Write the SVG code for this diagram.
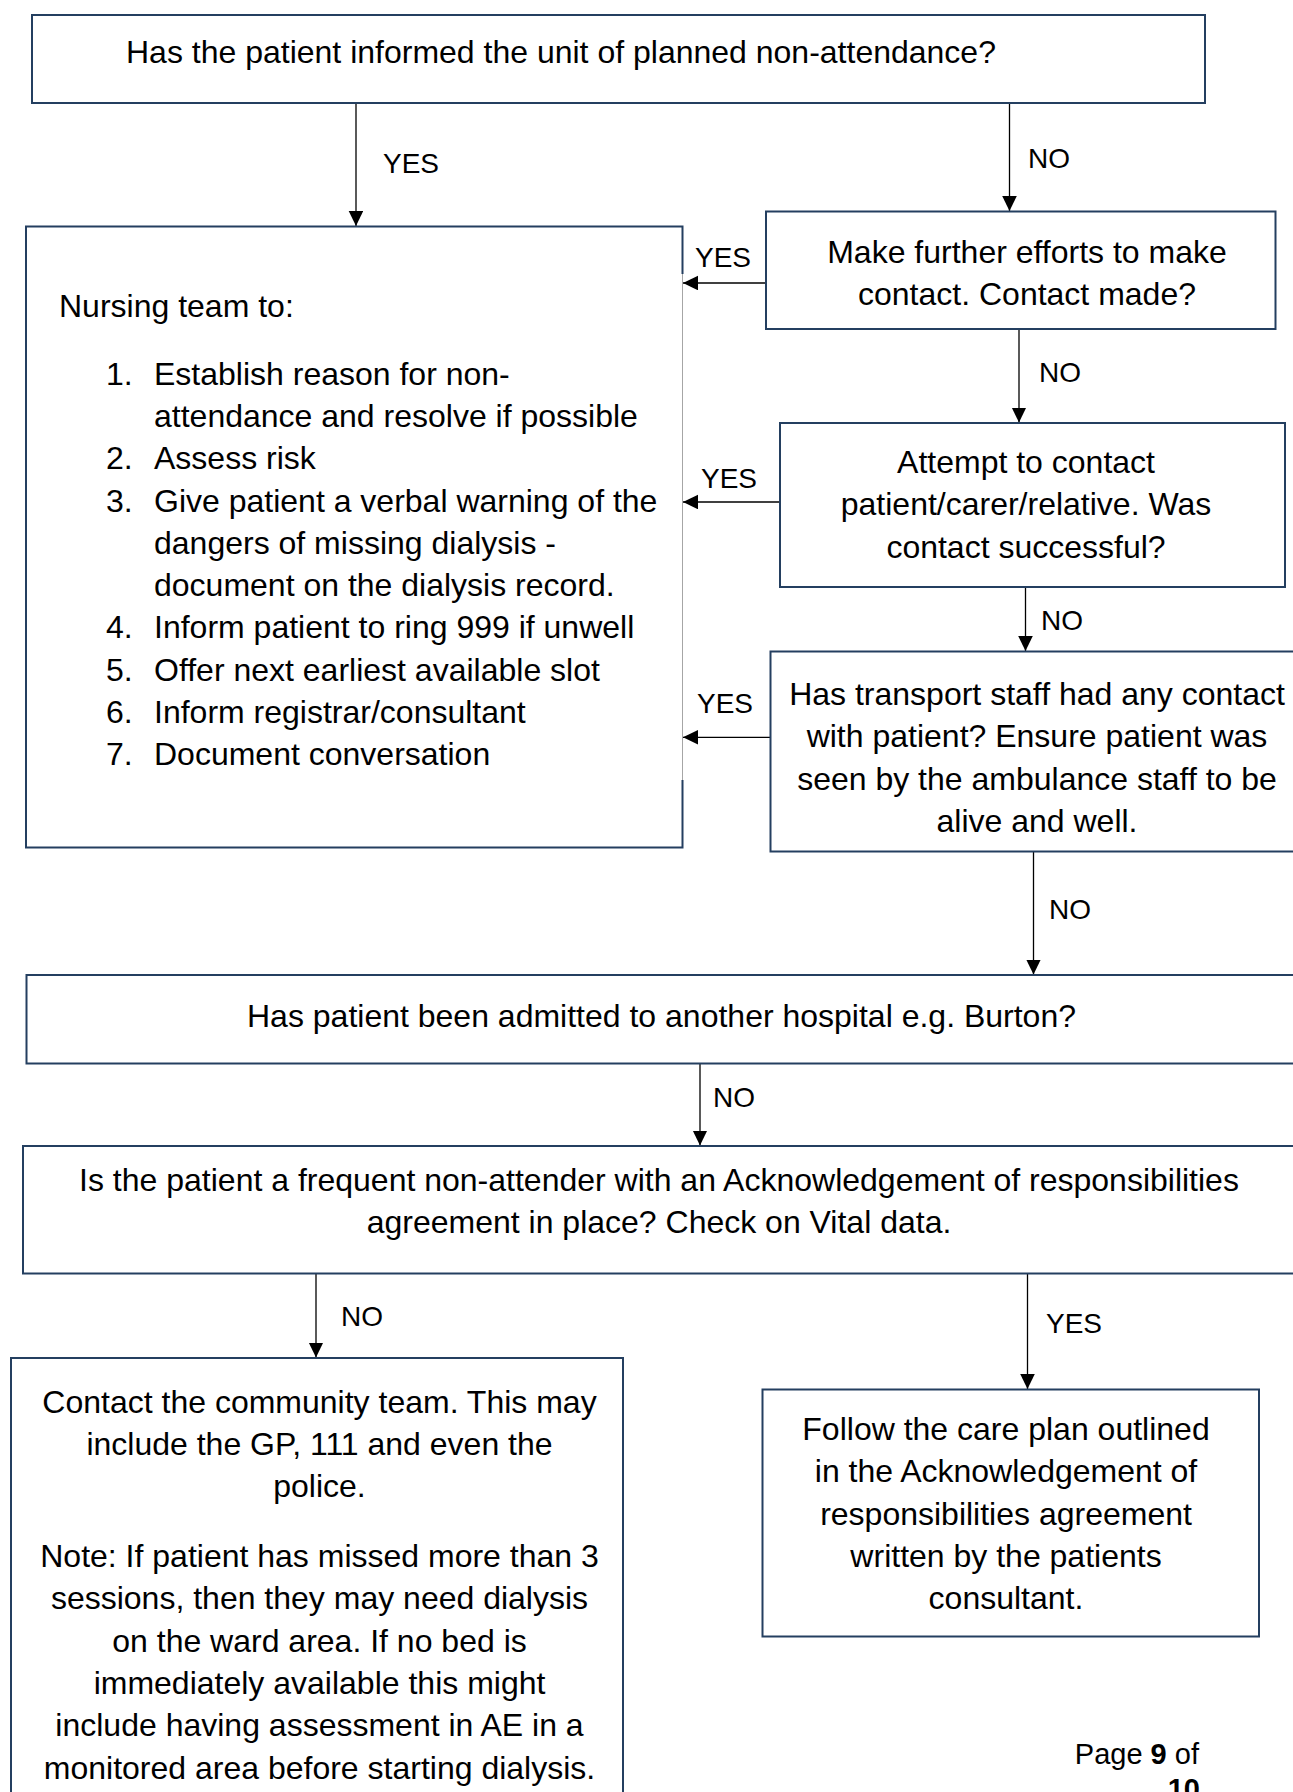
<svg xmlns="http://www.w3.org/2000/svg" width="1293" height="1792" viewBox="0 0 1293 1792">
<style>
  .box { fill: #ffffff; stroke: #243F60; stroke-width: 2; }
  .edge { fill: none; stroke: #243F60; stroke-width: 2; }
  .thin { fill: none; stroke: #A6A6A6; stroke-width: 1; }
  .t { font-family: "Liberation Sans", Arial, sans-serif; font-size: 32px; fill: #000000; }
  .c { text-anchor: middle; }
  .lbl { font-family: "Liberation Sans", Arial, sans-serif; font-size: 28px; fill: #000000; }
  .pg { font-family: "Liberation Sans", Arial, sans-serif; font-size: 29px; fill: #000000; text-anchor: end; }
  .con { stroke: #000000; stroke-width: 1.3; fill: none; marker-end: url(#ah); }
</style>
<defs>
  <marker id="ah" markerUnits="userSpaceOnUse" markerWidth="16" markerHeight="16" refX="15" refY="7.3" orient="auto">
    <path d="M0,0 L15,7.3 L0,14.6 z" fill="#000000"/>
  </marker>
</defs>
<rect width="1293" height="1792" fill="#ffffff"/>

<g id="connectors">
  <line class="con" x1="356" y1="103" x2="356" y2="226"/>
  <line class="con" x1="1009.5" y1="103" x2="1009.5" y2="211"/>
  <line class="con" x1="766" y1="283" x2="683" y2="283"/>
  <line class="con" x1="1019" y1="329" x2="1019" y2="422.5"/>
  <line class="con" x1="780" y1="502" x2="683" y2="502"/>
  <line class="con" x1="1025.5" y1="587" x2="1025.5" y2="651"/>
  <line class="con" x1="771" y1="737.3" x2="683" y2="737.3"/>
  <line class="con" x1="1033.5" y1="852" x2="1033.5" y2="974.5"/>
  <line class="con" x1="700" y1="1063.5" x2="700" y2="1145.5"/>
  <line class="con" x1="316" y1="1273.5" x2="316" y2="1357.5"/>
  <line class="con" x1="1027.5" y1="1273.5" x2="1027.5" y2="1389"/>
  <text class="lbl" x="383" y="173">YES</text>
  <text class="lbl" x="1028" y="168">NO</text>
  <text class="lbl" x="695" y="267">YES</text>
  <text class="lbl" x="1039" y="381.5">NO</text>
  <text class="lbl" x="701" y="487.5">YES</text>
  <text class="lbl" x="1041" y="629.5">NO</text>
  <text class="lbl" x="697" y="712.5">YES</text>
  <text class="lbl" x="1049" y="918.5">NO</text>
  <text class="lbl" x="713" y="1106.5">NO</text>
  <text class="lbl" x="341" y="1326">NO</text>
  <text class="lbl" x="1046" y="1332.5">YES</text>
</g>

<g id="n1">
  <rect class="box" x="32" y="15" width="1173" height="88"/>
  <text class="t" x="126" y="63">Has the patient informed the unit of planned non-attendance?</text>
</g>

<g id="n2">
  <rect class="box" x="766" y="211.5" width="509.5" height="117.5"/>
  <text class="t c" x="1027" y="262.5">Make further efforts to make</text>
  <text class="t c" x="1027" y="305">contact. Contact made?</text>
</g>

<g id="n_nursing">
  <rect x="26" y="226.5" width="656.5" height="621" fill="#ffffff"/>
  <path class="edge" d="M682.5,274 L682.5,226.5 L26,226.5 L26,847.5 L682.5,847.5 L682.5,780"/>
  <line class="thin" x1="682.5" y1="274" x2="682.5" y2="780"/>
  <text class="t" x="59" y="317">Nursing team to:</text>
  <text class="t" x="106" y="385">1.</text>
  <text class="t" x="154" y="385">Establish reason for non-</text>
  <text class="t" x="154" y="427">attendance and resolve if possible</text>
  <text class="t" x="106" y="469">2.</text>
  <text class="t" x="154" y="469">Assess risk</text>
  <text class="t" x="106" y="512">3.</text>
  <text class="t" x="154" y="512">Give patient a verbal warning of the</text>
  <text class="t" x="154" y="554">dangers of missing dialysis -</text>
  <text class="t" x="154" y="596">document on the dialysis record.</text>
  <text class="t" x="106" y="638">4.</text>
  <text class="t" x="154" y="638">Inform patient to ring 999 if unwell</text>
  <text class="t" x="106" y="681">5.</text>
  <text class="t" x="154" y="681">Offer next earliest available slot</text>
  <text class="t" x="106" y="723">6.</text>
  <text class="t" x="154" y="723">Inform registrar/consultant</text>
  <text class="t" x="106" y="765">7.</text>
  <text class="t" x="154" y="765">Document conversation</text>
</g>

<g id="n3">
  <rect class="box" x="780" y="423" width="505" height="164"/>
  <text class="t c" x="1026" y="473">Attempt to contact</text>
  <text class="t c" x="1026" y="515">patient/carer/relative. Was</text>
  <text class="t c" x="1026" y="557.5">contact successful?</text>
</g>

<g id="n4">
  <rect class="box" x="770.5" y="651.5" width="540" height="200"/>
  <text class="t c" x="1037" y="705">Has transport staff had any contact</text>
  <text class="t c" x="1037" y="747">with patient? Ensure patient was</text>
  <text class="t c" x="1037" y="789.5">seen by the ambulance staff to be</text>
  <text class="t c" x="1037" y="832">alive and well.</text>
</g>

<g id="n5">
  <rect class="box" x="26.5" y="975" width="1280" height="88.5"/>
  <text class="t c" x="661.5" y="1027">Has patient been admitted to another hospital e.g. Burton?</text>
</g>

<g id="n6">
  <rect class="box" x="23" y="1146" width="1285" height="127.5"/>
  <text class="t c" x="659" y="1191">Is the patient a frequent non-attender with an Acknowledgement of responsibilities</text>
  <text class="t c" x="659" y="1233">agreement in place? Check on Vital data.</text>
</g>

<g id="n7">
  <rect x="11" y="1358" width="612" height="450" fill="#ffffff"/>
  <path class="edge" d="M11,1800 L11,1358 L623,1358 L623,1800"/>
  <text class="t c" x="319.5" y="1412.5">Contact the community team. This may</text>
  <text class="t c" x="319.5" y="1455">include the GP, 111 and even the</text>
  <text class="t c" x="319.5" y="1497">police.</text>
  <text class="t c" x="319.5" y="1567">Note: If patient has missed more than 3</text>
  <text class="t c" x="319.5" y="1609">sessions, then they may need dialysis</text>
  <text class="t c" x="319.5" y="1651.5">on the ward area. If no bed is</text>
  <text class="t c" x="319.5" y="1694">immediately available this might</text>
  <text class="t c" x="319.5" y="1736">include having assessment in AE in a</text>
  <text class="t c" x="319.5" y="1778.5">monitored area before starting dialysis.</text>
</g>

<g id="n8">
  <rect class="box" x="762.5" y="1389.5" width="496.5" height="247"/>
  <text class="t c" x="1006" y="1440">Follow the care plan outlined</text>
  <text class="t c" x="1006" y="1482">in the Acknowledgement of</text>
  <text class="t c" x="1006" y="1524.5">responsibilities agreement</text>
  <text class="t c" x="1006" y="1567">written by the patients</text>
  <text class="t c" x="1006" y="1609">consultant.</text>
</g>

<g id="page">
  <text class="pg" x="1199" y="1764">Page <tspan font-weight="bold">9</tspan> of</text>
  <text class="pg" x="1200" y="1799" font-weight="bold">10</text>
</g>
</svg>
